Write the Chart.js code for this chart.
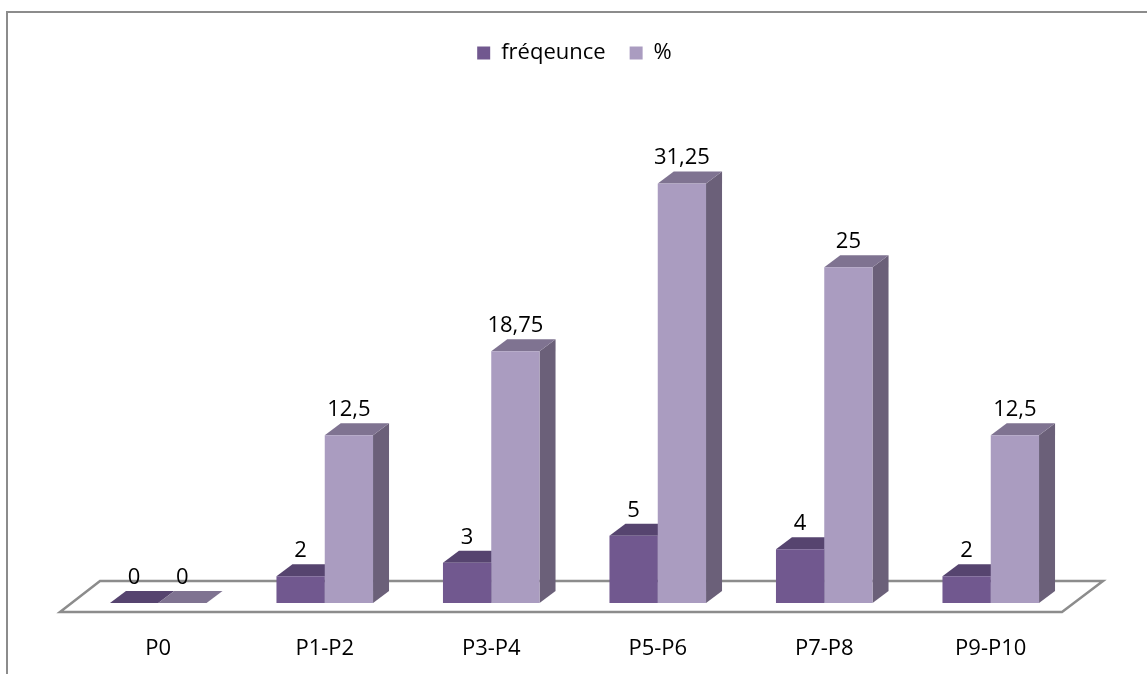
<!DOCTYPE html>
<html>
<head>
<meta charset="utf-8">
<script src="https://cdn.jsdelivr.net/npm/chart.js@4"></script>
<style>
  body { margin: 0; background: #fff; }
  #wrap { position: relative; width: 1147px; height: 674px; }
</style>
</head>
<body>
<div id="wrap"><canvas id="myChart"></canvas></div>
<script>
// classes de niveau
const categories = ['P0', 'P1-P2', 'P3-P4', 'P5-P6', 'P7-P8', 'P9-P10'];
const frequence = [0, 2, 3, 5, 4, 2];
const pourcent = [0, 12.5, 18.75, 31.25, 25, 12.5];

const fontFam = "'Open Sans', sans-serif";
const fontSize = 22;
const depthX = 16, depthY = 12;

// couleurs : face avant, dessus, côté
const colFreq = ['#71588f', '#56446f', '#4d3e63'];
const colPct = ['#aa9cc0', '#7f7391', '#6b6079'];

function poly(ctx, pts, color) {
    ctx.beginPath();
    ctx.moveTo(pts[0][0], pts[0][1]);
    for (let k = 1; k < pts.length; k++) ctx.lineTo(pts[k][0], pts[k][1]);
    ctx.closePath();
    ctx.fillStyle = color;
    ctx.fill();
}

// cadre + plancher + faces 3D (dessus et côté) avant les faces avant
const relief = {
    id: 'relief',
    beforeDraw(chart) {
        const ctx = chart.ctx;
        ctx.save();
        ctx.strokeStyle = '#8c8c8c';
        ctx.lineWidth = 2;
        ctx.beginPath();
        ctx.moveTo(7, 674);
        ctx.lineTo(7, 12);
        ctx.lineTo(1147, 12);
        ctx.stroke();
        ctx.restore();
    },
    beforeDatasetsDraw(chart) {
        const ctx = chart.ctx;
        const a = chart.chartArea;
        const base = chart.scales.y.getPixelForValue(0);
        ctx.save();
        // plancher
        ctx.beginPath();
        ctx.moveTo(a.left - 15, base + 9);
        ctx.lineTo(a.right - 12, base + 9);
        ctx.lineTo(a.right + 29, base - 22);
        ctx.lineTo(a.left + 25, base - 22);
        ctx.closePath();
        ctx.fillStyle = '#fff';
        ctx.fill();
        ctx.strokeStyle = '#8c8c8c';
        ctx.lineWidth = 2.5;
        ctx.stroke();

        const sets = [colFreq, colPct];
        categories.forEach((c, i) => {
            sets.forEach((cols, d) => {
                const bar = chart.getDatasetMeta(d).data[i];
                const p = bar.getProps(['x', 'y', 'base', 'width'], true);
                const l = p.x - p.width / 2, r = p.x + p.width / 2;
                poly(ctx, [[r, p.y], [r + depthX, p.y - depthY], [r + depthX, p.base - depthY], [r, p.base]], cols[2]);
                poly(ctx, [[l, p.y], [r, p.y], [r + depthX, p.y - depthY], [l + depthX, p.y - depthY]], cols[1]);
            });
        });
        ctx.restore();
    },
    afterDatasetsDraw(chart) {
        const ctx = chart.ctx;
        ctx.save();
        ctx.font = fontSize + 'px ' + fontFam;
        ctx.fillStyle = '#000';
        ctx.textAlign = 'center';
        ctx.textBaseline = 'alphabetic';
        [frequence, pourcent].forEach((vals, d) => {
            chart.getDatasetMeta(d).data.forEach((bar, i) => {
                const p = bar.getProps(['x', 'y'], true);
                ctx.fillText(String(vals[i]).replace('.', ','), p.x, p.y - 19);
            });
        });
        ctx.restore();
    }
};

let grafico = new Chart('myChart', {
    type: 'bar',
    data: {
        labels: categories,
        datasets: [{
            label: 'fréqeunce',
            data: frequence,
            backgroundColor: colFreq[0],
            borderWidth: 0
        }, {
            label: '%',
            data: pourcent,
            backgroundColor: colPct[0],
            borderWidth: 0
        }]
    },
    options: {
        responsive: true,
        maintainAspectRatio: false,
        animation: false,
        categoryPercentage: 0.58,
        barPercentage: 1,
        layout: { padding: { left: 75, right: 73, top: 18, bottom: 0 } },
        plugins: {
            legend: {
                display: true,
                position: 'top',
                labels: {
                    boxWidth: 13,
                    boxHeight: 13,
                    padding: 24,
                    color: '#000',
                    font: { family: fontFam, size: fontSize }
                }
            },
            tooltip: { enabled: false }
        },
        scales: {
            x: {
                grid: { display: false, drawTicks: false },
                border: { display: false },
                ticks: {
                    color: '#000',
                    padding: 33,
                    maxRotation: 0,
                    font: { family: fontFam, size: fontSize }
                },
                afterFit(scale) { scale.height = 71; }
            },
            y: {
                display: false,
                min: 0,
                max: 39.4
            }
        }
    },
    plugins: [relief]
});
</script>
</body>
</html>
